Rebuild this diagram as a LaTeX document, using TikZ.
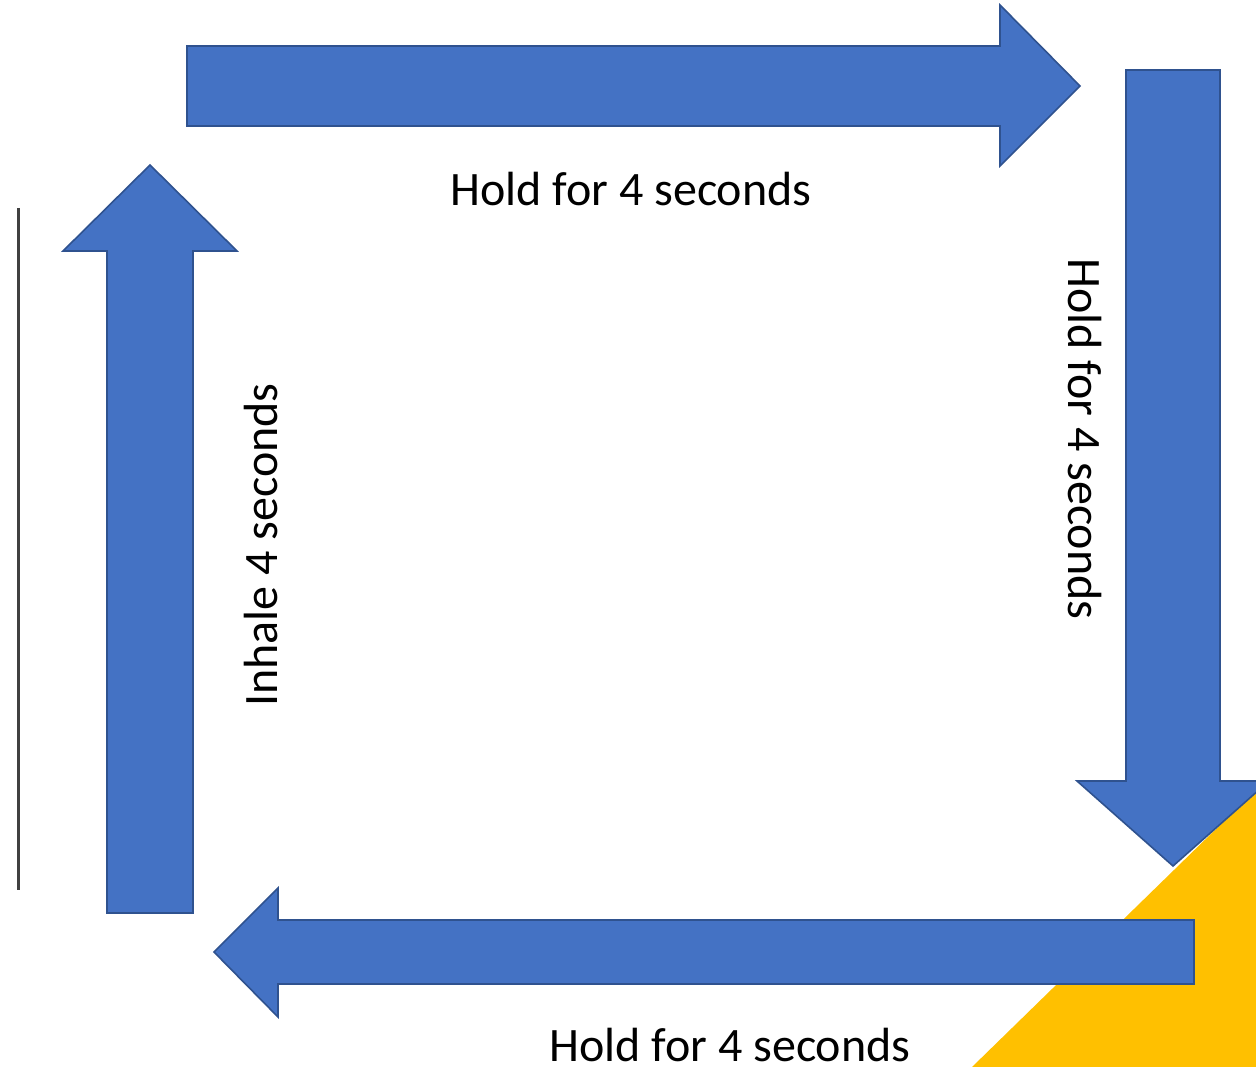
\documentclass[tikz,border=0pt]{standalone}
\usepackage{fontspec}
\setmainfont{Carlito}
\definecolor{arrowblue}{HTML}{4472C4}
\definecolor{arrowedge}{HTML}{2F528F}
\definecolor{cornergold}{HTML}{FFC000}
\definecolor{rulegray}{HTML}{404040}
\tikzset{
  bigarrow/.style={fill=arrowblue, draw=arrowedge, line width=1.6pt, line join=miter},
  caption/.style={font=\fontsize{48}{58}\selectfont, text=black, inner sep=0pt, anchor=base},
}
\begin{document}
\begin{tikzpicture}[x=1pt, y=-1pt]
\useasboundingbox (0,0) rectangle (1256,1067);
\clip (0,0) rectangle (1256,1067);
% yellow corner triangle
\fill[cornergold] (1256,790) -- (972,1067) -- (1256,1067) -- cycle;
% left gray rule
\draw[rulegray, line width=3pt] (18,208) -- (18,890);
% top arrow (right)
\draw[bigarrow] (187,46) -- (1000,46) -- (1000,5) -- (1080,86) -- (1000,166) -- (1000,126) -- (187,126) -- cycle;
% right arrow (down)
\draw[bigarrow] (1126,70) -- (1220,70) -- (1220,781) -- (1269,781) -- (1173,866) -- (1077,781) -- (1126,781) -- cycle;
% bottom arrow (left)
\draw[bigarrow] (1194,920) -- (278,920) -- (278,888) -- (214,952) -- (278,1017) -- (278,984) -- (1194,984) -- cycle;
% left arrow (up)
\draw[bigarrow] (107,913) -- (107,251) -- (63,251) -- (150,165) -- (237,251) -- (193,251) -- (193,913) -- cycle;
% labels
\node[caption] (top) at (631,206) {Hold for 4 seconds};
\node[caption, rotate=-90] (right) at (1068,439) {Hold for 4 seconds};
\node[caption] (bottom) at (730,1061) {Hold for 4 seconds};
\node[caption, rotate=90] (left) at (277,545) {Inhale 4 seconds};
\end{tikzpicture}
\end{document}
